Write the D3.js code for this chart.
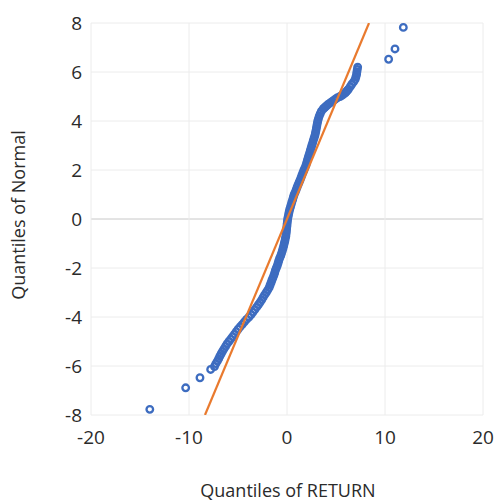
<html>
<script src="https://cdn.jsdelivr.net/npm/d3@7"></script>
<body style="margin:0;background:#fff"></body>
<script>
const width = 496;
const height = 502;

// quantiles of RETURN (x) vs quantiles of Normal (y)
const returnQ = [
  -14.0, -10.34, -8.88, -7.79, -7.40,
  -7.26, -7.10, -6.97, -6.85, -6.72, -6.58, -6.43, -6.27, -6.12, -5.93,
  -5.74, -5.55, -5.36, -5.18, -4.99, -4.79, -4.56, -4.35, -4.13, -3.88,
  -3.66, -3.47, -3.29, -3.10, -2.92, -2.75, -2.58, -2.44, -2.29, -2.12,
  -1.97, -1.82, -1.73, -1.63, -1.54, -1.44, -1.34, -1.26, -1.19, -1.09,
  -0.99, -0.91, -0.84, -0.75, -0.64, -0.56, -0.48, -0.41, -0.34, -0.28,
  -0.22, -0.17, -0.12, -0.09, -0.06, -0.04, -0.01, 0.01, 0.04, 0.07,
  0.12, 0.17, 0.22, 0.28, 0.36, 0.43, 0.50, 0.58, 0.65, 0.73,
  0.84, 0.94, 1.03, 1.13, 1.24, 1.34, 1.44, 1.53, 1.63, 1.73,
  1.84, 1.94, 2.01, 2.08, 2.16, 2.23, 2.31, 2.38, 2.46, 2.53,
  2.61, 2.68, 2.76, 2.84, 2.90, 2.95, 3.00, 3.04, 3.09, 3.14,
  3.21, 3.29, 3.39, 3.51, 3.70, 3.84, 3.97, 4.11, 4.27, 4.44,
  4.62, 4.79, 4.96, 5.15, 5.41, 5.61, 5.78, 5.95, 6.06, 6.17,
  6.27, 6.45, 6.61, 6.80, 6.96, 7.03, 7.10, 7.13, 7.17, 7.21,
  10.37, 11.02, 11.87
];
const normalQ = [
  -7.77, -6.89, -6.48, -6.14, -6.02,
  -5.9, -5.8, -5.7, -5.6, -5.5, -5.4, -5.3, -5.2, -5.1, -5.0,
  -4.9, -4.8, -4.7, -4.6, -4.5, -4.4, -4.3, -4.2, -4.1, -4.0,
  -3.9, -3.8, -3.7, -3.6, -3.5, -3.4, -3.3, -3.2, -3.1, -3.0,
  -2.9, -2.8, -2.7, -2.6, -2.5, -2.4, -2.3, -2.2, -2.1, -2.0,
  -1.9, -1.8, -1.7, -1.6, -1.5, -1.4, -1.3, -1.2, -1.1, -1.0,
  -0.9, -0.8, -0.7, -0.6, -0.5, -0.4, -0.3, -0.2, -0.1, 0.0,
  0.1, 0.2, 0.3, 0.4, 0.5, 0.6, 0.7, 0.8, 0.9, 1.0,
  1.1, 1.2, 1.3, 1.4, 1.5, 1.6, 1.7, 1.8, 1.9, 2.0,
  2.1, 2.2, 2.3, 2.4, 2.5, 2.6, 2.7, 2.8, 2.9, 3.0,
  3.1, 3.2, 3.3, 3.4, 3.5, 3.6, 3.7, 3.8, 3.9, 4.0,
  4.1, 4.2, 4.3, 4.4, 4.5, 4.55, 4.6, 4.65, 4.7, 4.75,
  4.8, 4.85, 4.9, 4.95, 5.0, 5.05, 5.1, 5.15, 5.2, 5.25,
  5.3, 5.4, 5.5, 5.6, 5.7, 5.8, 5.9, 6.0, 6.1, 6.2,
  6.52, 6.94, 7.82
];

// reference line
const lineX = [-8.37, 8.37];
const lineY = [-8, 8];

const xTicks = [-20, -10, 0, 10, 20];
const yTicks = [-8, -6, -4, -2, 0, 2, 4, 6, 8];

const x = d3.scaleLinear().domain([-20, 20]).range([91, 483]);
const y = d3.scaleLinear().domain([-8, 8]).range([415, 23]);

const svg = d3.select('body')
  .append('svg')
  .attr('width', width)
  .attr('height', height)
  .style('font-family', '"Open Sans", sans-serif')
  .style('fill', '#2b2b2b');

svg.append('defs').append('clipPath')
  .attr('id', 'plot')
  .append('rect')
  .attr('x', x(-20)).attr('y', y(8))
  .attr('width', x(20) - x(-20)).attr('height', y(-8) - y(8));

// gridlines
svg.append('g')
  .selectAll('line')
    .data(yTicks)
  .enter()
    .append('line')
    .attr('x1', x(-20)).attr('x2', x(20))
    .attr('y1', d=>y(d)).attr('y2', d=>y(d))
    .attr('stroke', d=>d === 0 ? '#c8c8c8' : '#ececec')
    .attr('stroke-width', 1);

svg.append('g')
  .selectAll('line')
    .data(xTicks)
  .enter()
    .append('line')
    .attr('x1', d=>x(d)).attr('x2', d=>x(d))
    .attr('y1', y(8)).attr('y2', y(-8))
    .attr('stroke', '#ececec')
    .attr('stroke-width', 1);

// tick labels
svg.append('g')
  .selectAll('text')
    .data(yTicks)
  .enter()
    .append('text')
    .attr('x', 82)
    .attr('y', d=>y(d))
    .attr('dy', '0.35em')
    .attr('text-anchor', 'end')
    .style('font-size', '19px')
    .text(d=>d);

svg.append('g')
  .selectAll('text')
    .data(xTicks)
  .enter()
    .append('text')
    .attr('x', d=>x(d))
    .attr('y', 437)
    .attr('dy', '0.35em')
    .attr('text-anchor', 'middle')
    .style('font-size', '19px')
    .text(d=>d);

// axis titles
svg.append('text')
  .attr('x', 288)
  .attr('y', 491)
  .attr('dy', '0.35em')
  .attr('text-anchor', 'middle')
  .style('font-size', '18px')
  .text('Quantiles of RETURN');

svg.append('text')
  .attr('transform', 'translate(19,215) rotate(-90)')
  .attr('dy', '0.35em')
  .attr('text-anchor', 'middle')
  .style('font-size', '18px')
  .text('Quantiles of Normal');

// points
const points = returnQ.map((v, i)=>({x: v, y: normalQ[i]}));

svg.append('g')
  .selectAll('circle')
    .data(points)
  .enter()
    .append('circle')
    .attr('cx', d=>x(d.x))
    .attr('cy', d=>y(d.y))
    .attr('r', 3.3)
    .attr('fill', 'none')
    .attr('stroke', '#3d6cc0')
    .attr('stroke-width', 2.3);

// fitted line
svg.append('path')
  .datum(lineX.map((v, i)=>[v, lineY[i]]))
  .attr('clip-path', 'url(#plot)')
  .attr('d', d3.line().x(d=>x(d[0])).y(d=>y(d[1])))
  .attr('fill', 'none')
  .attr('stroke', '#E97A2E')
  .attr('stroke-width', 2.2);
</script>
</html>
